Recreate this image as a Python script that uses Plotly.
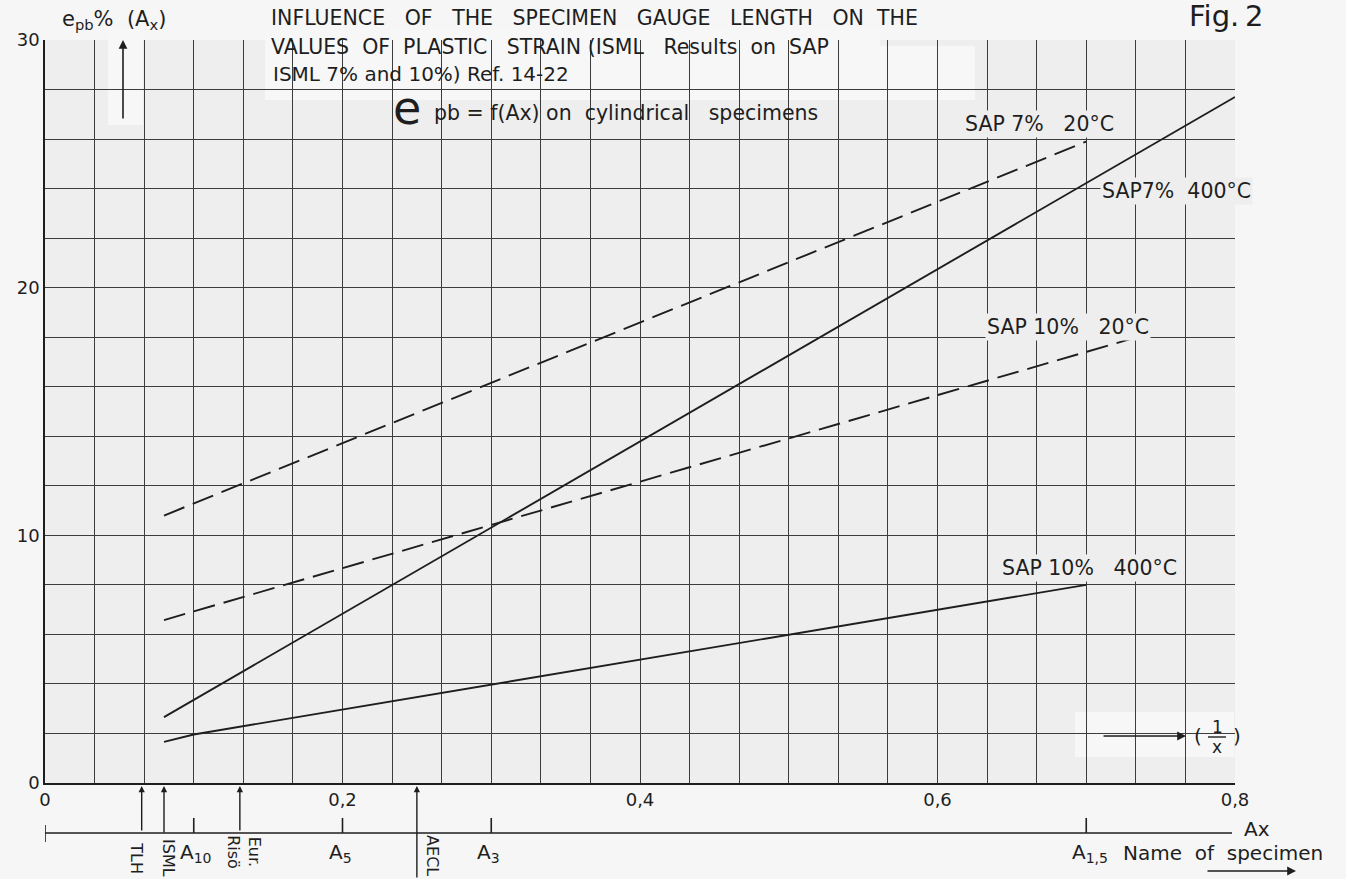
import plotly.graph_objects as go

# Plastic strain e_pb (%) as a function of 1/x for SAP cylindrical specimens
inv_x_7_20 = [0.08, 0.70]
epb_7_20 = [10.8, 25.9]
inv_x_7_400 = [0.08, 0.80]
epb_7_400 = [2.66, 27.7]
inv_x_10_20 = [0.08, 0.734]
epb_10_20 = [6.58, 18.0]
inv_x_10_400 = [0.08, 0.10, 0.70]
epb_10_400 = [1.66, 1.96, 8.0]

NB = "\u00a0"
series_labels = [
    f"SAP 7%{NB*3}20°C",
    f"SAP7%{NB*2}400°C",
    f"SAP 10%{NB*3}20°C",
    f"SAP 10%{NB*3}400°C",
]

x_tick_vals = [0, 0.2, 0.4, 0.6, 0.8]
x_tick_text = ["0", "0,2", "0,4", "0,6", "0,8"]
y_tick_vals = [0, 10, 20, 30]
y_tick_text = ["0", "10", "20", "30"]

# gauge lengths used by the laboratories, marked under the 1/x axis
lab_pos = [0.065, 0.08, 0.131, 0.25]
lab_names = ["TLH", "ISML", "Eur.<br>Risö", "AECL"]

# specimen names on the Ax scale
spec_pos = [0.1, 0.2, 0.3, 0.7]
spec_names = ["A<sub>10</sub>", "A<sub>5</sub>", "A<sub>3</sub>", "A<sub>1,5</sub>"]

FONT = "DejaVu Sans"
INK = "#1e1e1e"
GRID = "#3c3c3c"

# plot-area edges in page pixels
L, R, T, B = 45, 1235, 40, 783


def PX(px):
    return (px - L) / (R - L)


def PY(py):
    return (B - py) / (B - T)


fig = go.Figure()

line_style = dict(color=INK, width=1.9)
dash_style = dict(color=INK, width=1.9, dash="22px,9px")
fig.add_trace(go.Scatter(x=inv_x_7_20, y=epb_7_20, mode="lines", line=dash_style))
fig.add_trace(go.Scatter(x=inv_x_7_400, y=epb_7_400, mode="lines", line=line_style))
fig.add_trace(go.Scatter(x=inv_x_10_20, y=epb_10_20, mode="lines", line=dash_style))
fig.add_trace(go.Scatter(x=inv_x_10_400, y=epb_10_400, mode="lines", line=line_style))

ann = []
shapes = []


def text(px, py, s, size=18, xanchor="left", **kw):
    ann.append(dict(x=PX(px), y=PY(py), xref="paper", yref="paper", text=s,
                    showarrow=False, xanchor=xanchor, yanchor="middle",
                    font=dict(family=FONT, size=size, color=INK), **kw))


def arrow(px0, py0, px1, py1):
    # arrow drawn from (px0, py0) to the head at (px1, py1)
    ann.append(dict(x=PX(px1), y=PY(py1), xref="paper", yref="paper", text="",
                    showarrow=True, ax=px0 - px1, ay=py0 - py1, axref="pixel",
                    ayref="pixel", arrowhead=2, arrowsize=1.1, arrowwidth=1.6,
                    arrowcolor=INK))


def blank(px0, py0, px1, py1, color="#f7f7f7"):
    shapes.append(dict(type="rect", xref="paper", yref="paper",
                       x0=PX(px0), x1=PX(px1), y0=PY(py1), y1=PY(py0),
                       fillcolor=color, line=dict(width=0), layer="between"))


# cleared areas behind the heading, the y arrow and the 1/x arrow
blank(265, 30, 880, 100)
blank(880, 46, 975, 100)
blank(108, 30, 143, 125)
blank(1075, 712, 1234, 757)

# heading
text(269, 18, f"INFLUENCE{NB*3}OF{NB*3}THE{NB*3}SPECIMEN{NB*3}GAUGE{NB*3}LENGTH{NB*3}ON{NB*2}THE", size=20.5)
text(269, 47, f"VALUES{NB*2}OF{NB*2}PLASTIC{NB*3}STRAIN{NB}(ISML{NB*3}Results{NB*2}on{NB*2}SAP", size=20.5)
text(271, 74, f"ISML{NB}7%{NB}and{NB}10%){NB}Ref.{NB}14-22", size=20)
text(391, 108, "e", size=46)
text(432, 113, f"pb{NB}={NB}f(Ax){NB}on{NB*2}cylindrical{NB*3}specimens", size=20.5)
text(1187, 16, "Fig.\u20092", size=29)

# y-axis label and arrow
text(60, 20, f"e<sub>pb</sub>%{NB*2}(A<sub>x</sub>)", size=21)
arrow(123, 120, 123, 40)

# 1/x arrow
arrow(1102, 736, 1186, 736)
text(1198, 736, "(", size=20, xanchor="center")
text(1217, 727, "1", size=17, xanchor="center")
text(1217, 747, "x", size=17, xanchor="center")
text(1237, 736, ")", size=20, xanchor="center")
shapes.append(dict(type="line", xref="paper", yref="paper", x0=PX(1208), x1=PX(1226),
                   y0=PY(737), y1=PY(737), line=dict(color=INK, width=1.4)))

# series labels
label_xy = [(0.617, 26.6), (0.709, 23.9), (0.632, 18.4), (0.642, 8.7)]
for (lx, ly), s in zip(label_xy, series_labels):
    ann.append(dict(x=lx, y=ly, xref="x", yref="y", text=s, showarrow=False,
                    xanchor="left", yanchor="middle", bgcolor="#eeeeee",
                    font=dict(family=FONT, size=20.5, color=INK)))

# Ax scale under the plot
ax_y = PY(833)
shapes.append(dict(type="line", xref="x", yref="paper", x0=0, x1=0.798, y0=ax_y, y1=ax_y,
                   line=dict(color=INK, width=1.6)))
shapes.append(dict(type="line", xref="x", yref="paper", x0=0, x1=0, y0=PY(825), y1=PY(842),
                   line=dict(color=INK, width=1.6)))
for p, s in zip(spec_pos, spec_names):
    shapes.append(dict(type="line", xref="x", yref="paper", x0=p, x1=p, y0=ax_y, y1=PY(818),
                       line=dict(color=INK, width=1.6)))
    ann.append(dict(x=p, y=PY(853), xref="x", yref="paper", text=s, showarrow=False,
                    xanchor="left", yanchor="middle", xshift=-16,
                    font=dict(family=FONT, size=20, color=INK)))
text(1242, 829, "Ax", size=20)
text(1121, 853, f"Name{NB}{NB}of{NB}{NB}specimen", size=20)
arrow(1206, 871, 1296, 871)

# laboratory marks
lab_len = [46, 48, 46, 100]
lab_text_dx = [-5, 5, 4, 16]
lab_text_y = [858, 858, 852, 856]
for p, n, ln, dx, ty in zip(lab_pos, lab_names, lab_len, lab_text_dx, lab_text_y):
    ann.append(dict(x=p, y=PY(786), xref="x", yref="paper", text="", showarrow=True,
                    ax=0, ay=ln, arrowhead=2, arrowsize=0.9, arrowwidth=1.4,
                    arrowcolor=INK))
    ann.append(dict(x=p, y=PY(ty), xref="x", yref="paper", text=n, showarrow=False,
                    xanchor="center", yanchor="middle", xshift=dx, textangle=90,
                    font=dict(family=FONT, size=16, color=INK)))

fig.update_layout(
    width=1346, height=879, autosize=False,
    margin=dict(l=L, r=1346 - R, t=T, b=879 - B),
    paper_bgcolor="#f6f6f6", plot_bgcolor="#eeeeee",
    showlegend=False,
    annotations=ann, shapes=shapes,
    font=dict(family=FONT, size=18, color=INK),
)
fig.update_xaxes(
    range=[0, 0.8], tickvals=x_tick_vals, ticktext=x_tick_text,
    showgrid=True, gridcolor=GRID, gridwidth=1, zeroline=False,
    showline=True, linecolor=INK, linewidth=1.6, ticks="",
    minor=dict(dtick=1 / 30, tick0=0, showgrid=True, gridcolor=GRID, gridwidth=1),
    tickfont=dict(family=FONT, size=18, color=INK),
)
fig.update_yaxes(
    range=[0, 30], tickvals=y_tick_vals, ticktext=y_tick_text,
    showgrid=True, gridcolor=GRID, gridwidth=1, zeroline=False,
    showline=True, linecolor=INK, linewidth=1.6, ticks="",
    minor=dict(dtick=2, tick0=0, showgrid=True, gridcolor=GRID, gridwidth=1),
    tickfont=dict(family=FONT, size=18, color=INK),
)

fig.write_html("out.html")
